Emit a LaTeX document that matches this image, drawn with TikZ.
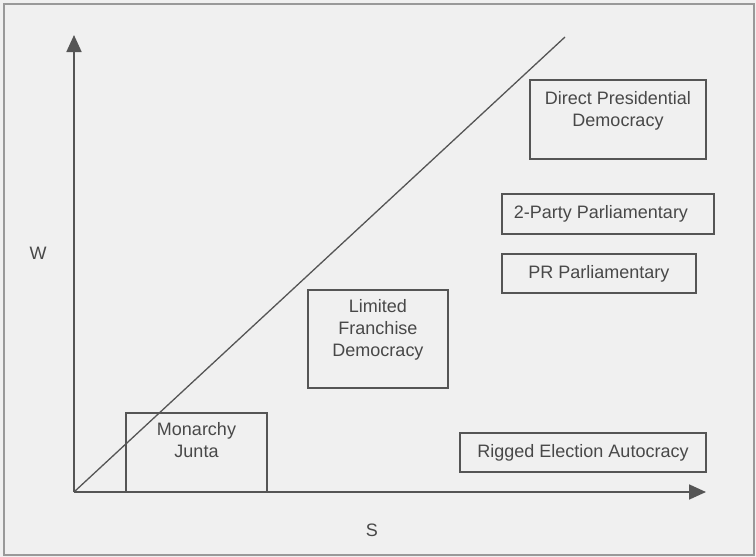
\documentclass[tikz,border=0pt]{standalone}
\usepackage{fontspec}
\setmainfont{Liberation Sans}
\usepackage{xcolor}
\usetikzlibrary{arrows.meta, positioning}

\definecolor{paper}{HTML}{F0F0F0}
\definecolor{ink}{HTML}{555555}
\definecolor{inktext}{HTML}{484848}

\begin{document}
\begin{tikzpicture}[
  x=1pt, y=-1pt,
  regime/.style={
    rectangle, draw=ink, line width=1.6pt,
    inner sep=0pt},
  lbl/.style={
    font=\fontsize{18}{22}\selectfont, text=inktext,
    align=center, inner sep=0pt},
  axis/.style={-{Triangle[length=17pt, width=15pt]}, line width=1.8pt, draw=ink},
  diag/.style={line width=1.3pt, draw=ink},
]

%% ---- Page and frame ----
\fill[paper] (0,0) rectangle (756,557);
\draw[gray!80, line width=1.6pt] (4,4) rectangle (754,555);
\useasboundingbox (0,0) rectangle (756,557);

%% ---- Axes and diagonal ----
\coordinate (O) at (74,492);
\coordinate (ytop) at (74,35);
\coordinate (xend) at (706,492);
\coordinate (dend) at (565,37);

\draw[axis] (O) -- (ytop);
\draw[axis] (O) -- (xend);
\draw[diag] (O) -- (dend);

\node[lbl] (wlab) at (38,253) {W};
\node[lbl] (slab) at (372,530) {S};

%% ---- Regime boxes ----
\node[regime, minimum width=141pt, minimum height=79pt] (mon) at (196.5,452.5) {};
\node[lbl, anchor=north] (monT) at ([yshift=-10pt]mon.north) {Monarchy\\Junta};

\node[regime, minimum width=140pt, minimum height=98pt] (lim) at (378,339) {};
\node[lbl, anchor=north] (limT) at ([yshift=-10pt]lim.north) {Limited\\Franchise\\Democracy};

\node[regime, minimum width=176pt, minimum height=79pt] (dir) at (618,119.5) {};
\node[lbl, anchor=north] (dirT) at ([yshift=-12pt]dir.north) {Direct Presidential\\Democracy};

\node[regime, minimum width=212pt, minimum height=40pt] (two) at (608,214) {};
\node[lbl] (twoT) at ([xshift=-7pt]two.center) {2-Party Parliamentary};

\node[regime, minimum width=194pt, minimum height=39pt] (pr) at (599,273.5) {};
\node[lbl] (prT) at (pr.center) {PR Parliamentary};

\node[regime, minimum width=246pt, minimum height=39pt] (rig) at (583,452.5) {};
\node[lbl] (rigT) at (rig.center) {Rigged Election Autocracy};

\end{tikzpicture}
\end{document}
